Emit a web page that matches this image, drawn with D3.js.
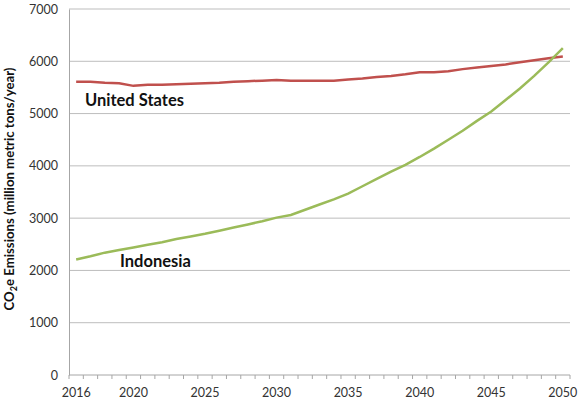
<!DOCTYPE html>
<meta charset="utf-8">
<script src="https://d3js.org/d3.v7.min.js"></script>
<style>
  body { margin: 0; background: #fff; }
  text { font-family: Lato, "Open Sans", sans-serif; }
</style>
<svg id="chart" width="580" height="402"></svg>
<script>
// years on the category axis
var years = d3.range(2016, 2051);
var yearLabels = [2016, 2020, 2025, 2030, 2035, 2040, 2045, 2050];
var yTicks = [0, 1000, 2000, 3000, 4000, 5000, 6000, 7000];

// million metric tons CO2e / year
var unitedStates = [5610, 5610, 5590, 5580, 5530, 5550, 5550, 5560, 5570, 5580,
                    5590, 5610, 5620, 5630, 5640, 5630, 5630, 5630, 5630, 5650,
                    5670, 5700, 5720, 5750, 5790, 5790, 5810, 5850, 5880, 5910,
                    5940, 5980, 6020, 6060, 6090];
var indonesia = [2210, 2270, 2340, 2390, 2440, 2490, 2540, 2600, 2650, 2700,
                 2760, 2820, 2880, 2940, 3010, 3060, 3160, 3260, 3360, 3470,
                 3610, 3750, 3890, 4020, 4170, 4330, 4500, 4670, 4860, 5040,
                 5260, 5480, 5720, 5980, 6250];

var margin = { top: 9, right: 10, bottom: 27, left: 69 },
    width = 580 - margin.left - margin.right,
    height = 402 - margin.top - margin.bottom;

var x = d3.scaleBand().domain(years).range([0, width]);
var y = d3.scaleLinear().domain([0, 7000]).range([height, 0]);

var svg = d3.select("#chart")
  .append("g")
  .attr("transform", "translate(" + margin.left + "," + margin.top + ")");

// horizontal gridlines
svg.append("g")
  .selectAll("line")
  .data(yTicks.filter(d => d > 0))
  .join("line")
  .attr("x1", 0).attr("x2", width)
  .attr("y1", d => y(d)).attr("y2", d => y(d))
  .attr("stroke", "#bdbdbd").attr("stroke-width", 1);

// y axis
var yAxis = svg.append("g")
  .call(d3.axisLeft(y).tickValues(yTicks).tickSize(0).tickPadding(11).tickFormat(d3.format("d")));
yAxis.select(".domain").attr("stroke", "#a6a6a6");
yAxis.selectAll("text").attr("font-size", 12.5).attr("fill", "#333").style("font-family", "Lato, sans-serif");

// x axis: ticks between categories, labels on selected years
var xAxis = svg.append("g").attr("transform", "translate(0," + height + ")");
xAxis.append("line")
  .attr("x1", 0).attr("x2", width)
  .attr("stroke", "#a6a6a6");
xAxis.selectAll("line.tick")
  .data(years.concat([null]))
  .join("line")
  .attr("class", "tick")
  .attr("x1", (d, i) => i * x.step()).attr("x2", (d, i) => i * x.step())
  .attr("y1", 0).attr("y2", 4)
  .attr("stroke", "#a6a6a6");
xAxis.selectAll("text")
  .data(yearLabels)
  .join("text")
  .attr("x", d => x(d) + x.bandwidth() / 2)
  .attr("y", 22)
  .attr("text-anchor", "middle")
  .attr("font-size", 12.5)
  .attr("fill", "#333")
  .text(d => d);

var line = d3.line()
  .x((d, i) => x(years[i]) + x.bandwidth() / 2)
  .y(d => y(d));

svg.append("path").datum(unitedStates)
  .attr("d", line).attr("fill", "none")
  .attr("stroke", "#c0504d").attr("stroke-width", 2.5);

svg.append("path").datum(indonesia)
  .attr("d", line).attr("fill", "none")
  .attr("stroke", "#9bbb59").attr("stroke-width", 2.5);

// series labels
svg.append("text")
  .attr("x", 16).attr("y", 97)
  .attr("font-size", 16.5).attr("font-weight", "bold").attr("fill", "#111")
  .text("United States");
svg.append("text")
  .attr("x", 51).attr("y", 258)
  .attr("font-size", 16.5).attr("font-weight", "bold").attr("fill", "#111")
  .text("Indonesia");

// y axis title
var title = d3.select("#chart").append("text")
  .attr("transform", "translate(14," + (margin.top + height / 2 - 3) + ") rotate(-90)")
  .attr("text-anchor", "middle")
  .attr("font-size", 13.2).attr("font-weight", "bold").attr("fill", "#111");
title.append("tspan").text("CO");
title.append("tspan").attr("font-size", 9).attr("dy", 3).text("2");
title.append("tspan").attr("dy", -3).text("e Emissions (million metric tons/year)");
</script>
